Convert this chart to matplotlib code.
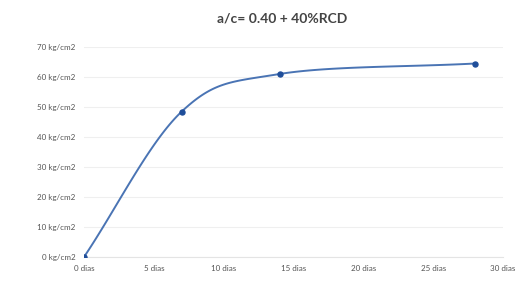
import numpy as np
import matplotlib
matplotlib.use("Agg")
import matplotlib.pyplot as plt

# compressive strength vs curing age
dias = [0, 7, 14, 28]
resistencia = [0, 48.5, 61, 64.5]
x_ticks = [0, 5, 10, 15, 20, 25, 30]
y_ticks = [0, 10, 20, 30, 40, 50, 60, 70]
titulo = "a/c= 0.40 + 40%RCD"


def smooth_curve(xs, ys, n=40):
    # Excel-style smoothed line: cubic bezier through each point pair
    p = np.column_stack([xs, ys]).astype(float)
    pts = []
    for i in range(len(p) - 1):
        p0 = p[i - 1] if i > 0 else 2 * p[i] - p[i + 1]
        p3 = p[i + 2] if i + 2 < len(p) else 2 * p[i + 1] - p[i]
        c1 = p[i] + (p[i + 1] - p0) / 6.0
        c2 = p[i + 1] - (p3 - p[i]) / 6.0
        t = np.linspace(0, 1, n)[:, None]
        seg = ((1 - t) ** 3) * p[i] + 3 * ((1 - t) ** 2) * t * c1 \
            + 3 * (1 - t) * t ** 2 * c2 + t ** 3 * p[i + 1]
        pts.append(seg)
    seg = np.vstack(pts)
    return seg[:, 0], seg[:, 1]


plt.rcParams['font.family'] = ['Lato', 'DejaVu Sans']

fig = plt.figure(figsize=(5.23, 2.84), dpi=100)
ax = fig.add_axes([0.1606, 0.095, 0.8012, 0.7395])

sx, sy = smooth_curve(dias, resistencia)
ax.plot(sx, sy, color="#4a74b4", lw=1.4, zorder=2)
ax.plot(dias, resistencia, "o", color="#1f4e9a", ms=3.6, zorder=3)

ax.set_xlim(0, 30)
ax.set_ylim(0, 70)
ax.set_xticks(x_ticks)
ax.set_xticklabels([f"{v} dias" for v in x_ticks])
ax.set_yticks(y_ticks)
ax.set_yticklabels([f"{v} kg/cm2" for v in y_ticks])
ax.tick_params(length=0, labelsize=5.8, colors="#555555", pad=6)
ax.grid(axis="y", color="#efefef", lw=0.8)
ax.set_axisbelow(True)
for s in ["top", "right", "left"]:
    ax.spines[s].set_visible(False)
ax.spines["bottom"].set_color("#e4e4e4")

fig.text(0.539, 0.935, titulo, ha="center", va="center",
         fontsize=10, fontweight="bold", color="#444444")

fig.savefig("out.png", dpi=100)
